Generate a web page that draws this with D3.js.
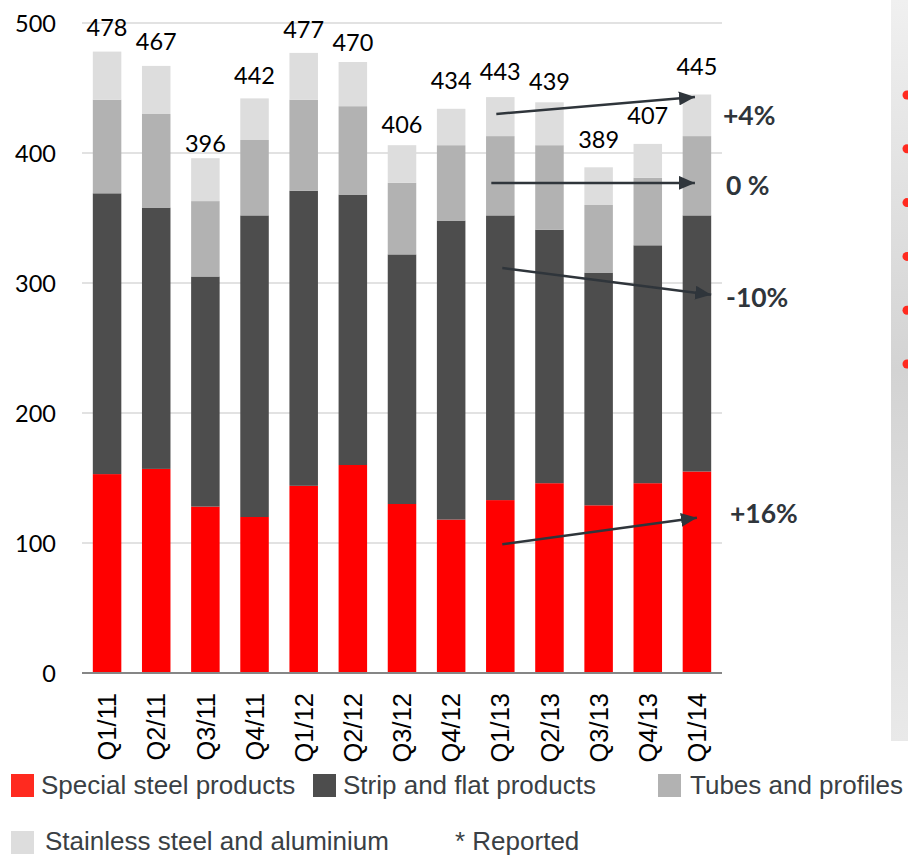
<!DOCTYPE html>
<html>
<head>
<meta charset="utf-8">
<script src="https://cdn.jsdelivr.net/npm/d3@7"></script>
<style>
  body { margin: 0; background: #fff; }
  svg { display: block; }
</style>
</head>
<body>
<svg id="chart" width="908" height="856"></svg>
<script>
// quarters on the x axis
var quarters = ["Q1/11", "Q2/11", "Q3/11", "Q4/11", "Q1/12", "Q2/12", "Q3/12",
  "Q4/12", "Q1/13", "Q2/13", "Q3/13", "Q4/13", "Q1/14"];

// stacked series, bottom to top
var special = [153, 157, 128, 120, 144, 160, 130, 118, 133, 146, 129, 146, 155];
var strip = [216, 201, 177, 232, 227, 208, 192, 230, 219, 195, 179, 183, 197];
var tubes = [72, 72, 58, 58, 70, 68, 55, 58, 61, 65, 52, 52, 61];
var stainless = [37, 37, 33, 32, 36, 34, 29, 28, 30, 33, 29, 26, 32];

// total labels shown above bars
var totals = [478, 467, 396, 442, 477, 470, 406, 434, 443, 439, 389, 407, 445];
var yTicks = [0, 100, 200, 300, 400, 500];

var seriesNames = ["Special steel products", "Strip and flat products",
  "Tubes and profiles", "Stainless steel and aluminium"];

// trend arrows from Q1/13 to Q1/14
var trendLabels = ["+4%", "0 %", "-10%", "+16%"];
var trendFrom = [430, 377, 311.5, 99];
var trendTo = [443, 377, 291, 119.5];

function drawChart() {
  var svg = d3.select("#chart");
  var colors = ["#ff0000", "#4d4d4d", "#b2b2b2", "#dddddd"];
  var legendColors = ["#ff2a1f", "#4d4d4d", "#b2b2b2", "#dddddd"];
  var ink = "#2f353b";

  var x = d3.scaleBand()
    .domain(quarters)
    .range([82, 722])
    .paddingInner(0.42)
    .paddingOuter(0.22);

  var y = d3.scaleLinear()
    .domain([0, 500])
    .range([673, 23]);

  // grey panel at the right edge
  var defs = svg.append("defs");
  var grad = defs.append("linearGradient")
    .attr("id", "panelGrad")
    .attr("x1", 0).attr("y1", 0).attr("x2", 0).attr("y2", 1);
  grad.append("stop").attr("offset", "0%").attr("stop-color", "#f0f0f0");
  grad.append("stop").attr("offset", "50%").attr("stop-color", "#d3d3d3");
  grad.append("stop").attr("offset", "100%").attr("stop-color", "#e9e9e9");

  svg.append("rect")
    .attr("x", 891).attr("y", 0)
    .attr("width", 20).attr("height", 741)
    .attr("fill", "url(#panelGrad)");

  svg.selectAll(".bullet")
    .data(d3.range(6))
    .enter()
    .append("circle")
    .attr("class", "bullet")
    .attr("cx", 907)
    .attr("cy", function(i) { return 95 + i * 53.8; })
    .attr("r", 4.5)
    .attr("fill", "#ff2a1f");

  // gridlines
  svg.append("g")
    .selectAll("line")
    .data(yTicks.filter(function(d) { return d > 0; }))
    .enter()
    .append("line")
    .attr("x1", 82).attr("x2", 722)
    .attr("y1", function(d) { return y(d); })
    .attr("y2", function(d) { return y(d); })
    .attr("stroke", "#d9d9d9")
    .attr("stroke-width", 1.5);

  // y axis labels
  var yAxis = d3.axisLeft(y).tickValues(yTicks).tickSize(0).tickPadding(0);
  var yg = svg.append("g")
    .attr("transform", "translate(56,0)")
    .call(yAxis);
  yg.select(".domain").remove();
  yg.selectAll("text")
    .attr("font-family", "Lato, sans-serif")
    .attr("font-size", 23.5)
    .attr("fill", "#000")
    .attr("dy", "0.35em");

  // stacked bars
  var rows = quarters.map(function(q, i) {
    return { q: q, s0: special[i], s1: strip[i], s2: tubes[i], s3: stainless[i] };
  });
  var stack = d3.stack().keys(["s0", "s1", "s2", "s3"]);
  var layers = stack(rows);

  svg.append("g")
    .selectAll("g")
    .data(layers)
    .enter()
    .append("g")
    .attr("fill", function(d, i) { return colors[i]; })
    .selectAll("rect")
    .data(function(d) { return d; })
    .enter()
    .append("rect")
    .attr("x", function(d) { return x(d.data.q); })
    .attr("width", x.bandwidth())
    .attr("y", function(d) { return y(d[1]); })
    .attr("height", function(d) { return y(d[0]) - y(d[1]); });

  // x axis line
  svg.append("line")
    .attr("x1", 82).attr("x2", 722)
    .attr("y1", y(0)).attr("y2", y(0))
    .attr("stroke", "#868686")
    .attr("stroke-width", 2);

  // x labels, rotated
  svg.append("g")
    .selectAll("text")
    .data(quarters)
    .enter()
    .append("text")
    .attr("transform", function(d) {
      return "translate(" + (x(d) + x.bandwidth() / 2) + "," + (y(0) + 20) + ") rotate(-90)";
    })
    .attr("text-anchor", "end")
    .attr("dy", "0.36em")
    .attr("font-family", "'Liberation Sans', Arial, sans-serif")
    .attr("font-size", 25.5)
    .attr("fill", "#000")
    .text(function(d) { return d; });

  // total labels (placed by hand in the original, gaps vary)
  var labelGap = [16, 16, 6, 14, 15, 11, 12, 20, 17, 12, 19, 20, 20];
  svg.append("g")
    .selectAll("text")
    .data(totals)
    .enter()
    .append("text")
    .attr("x", function(d, i) { return x(quarters[i]) + x.bandwidth() / 2; })
    .attr("y", function(d, i) { return y(d) - labelGap[i]; })
    .attr("text-anchor", "middle")
    .attr("font-family", "Lato, sans-serif")
    .attr("font-size", 23.5)
    .attr("fill", "#000")
    .text(function(d) { return d; });

  // arrows
  defs.append("marker")
    .attr("id", "arrowHead")
    .attr("markerUnits", "userSpaceOnUse")
    .attr("viewBox", "0 0 16 14")
    .attr("refX", 16).attr("refY", 7)
    .attr("markerWidth", 16).attr("markerHeight", 14)
    .attr("orient", "auto")
    .append("path")
    .attr("d", "M0,0 L16,7 L0,14 Z")
    .attr("fill", ink);

  var xStart = x("Q1/13") + x.bandwidth() / 2;
  var xEnd = [x("Q1/14") + x.bandwidth() / 2 - 2, x("Q1/14") + x.bandwidth() / 2 - 2,
    x("Q1/14") + x.bandwidth(), x("Q1/14") + x.bandwidth() / 2];
  var xStartOff = [-4, -9, 2, 2];
  var labelX = [723, 726, 726, 730];
  var labelV = [421.5, 367.7, 281.5, 115.4];

  var arrows = svg.append("g");
  trendLabels.forEach(function(t, i) {
    arrows.append("line")
      .attr("x1", xStart + xStartOff[i])
      .attr("y1", y(trendFrom[i]))
      .attr("x2", xEnd[i])
      .attr("y2", y(trendTo[i]))
      .attr("stroke", ink)
      .attr("stroke-width", 2.5)
      .attr("marker-end", "url(#arrowHead)");
    arrows.append("text")
      .attr("x", labelX[i])
      .attr("y", y(labelV[i]))
      .attr("font-family", "Lato, sans-serif")
      .attr("font-weight", "bold")
      .attr("font-size", 26.5)
      .attr("fill", ink)
      .text(t);
  });

  // legend
  var legendPos = [
    { x: 11, y: 774, tx: 41, ty: 794 },
    { x: 313, y: 774, tx: 343, ty: 794 },
    { x: 658, y: 774, tx: 690, ty: 794 },
    { x: 11, y: 831, tx: 45, ty: 850 }
  ];
  var legend = svg.append("g");
  seriesNames.forEach(function(name, i) {
    var p = legendPos[i];
    legend.append("rect")
      .attr("x", p.x).attr("y", p.y)
      .attr("width", 23).attr("height", 23)
      .attr("fill", legendColors[i]);
    legend.append("text")
      .attr("x", p.tx).attr("y", p.ty)
      .attr("font-family", "'Liberation Sans', Arial, sans-serif")
      .attr("font-size", 26)
      .attr("fill", "#3a3f44")
      .text(name);
  });
  legend.append("text")
    .attr("x", 455).attr("y", 850)
    .attr("font-family", "'Liberation Sans', Arial, sans-serif")
    .attr("font-size", 26)
    .attr("fill", "#3a3f44")
    .text("* Reported");
}

drawChart();
</script>
</body>
</html>
